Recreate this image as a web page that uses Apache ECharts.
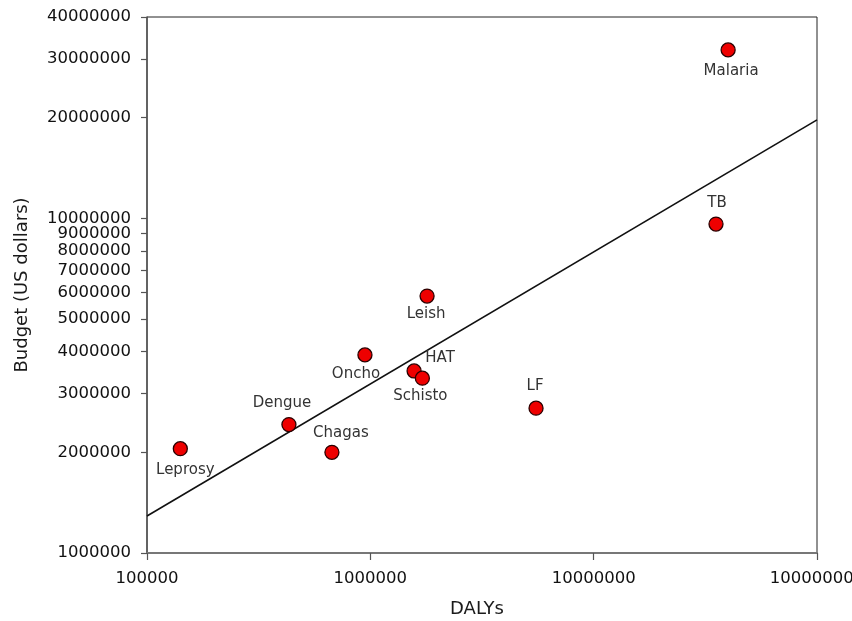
<!DOCTYPE html>
<html><head><meta charset="utf-8">
<script src="https://cdn.jsdelivr.net/npm/echarts@6/dist/echarts.min.js"></script>
<style>html,body{margin:0;padding:0;background:#fff}#c{width:852px;height:621px}</style>
</head><body><div id="c"></div>
<script>
// ---- data ----
const diseases = ['Malaria', 'TB', 'LF', 'Leish', 'Oncho', 'HAT', 'Schisto', 'Dengue', 'Chagas', 'Leprosy'];
const dalys   = [40000000, 35300000, 5520000, 1795000, 946000, 1570000, 1710000, 432000, 673000, 141000];
const budgets = [31900000, 9620000, 2710000, 5860000, 3910000, 3500000, 3330000, 2420000, 2000000, 2050000];
const fitLineX = [100000, 100000000];
const fitLineY = [1290000, 19700000];
const xTickValues = [100000, 1000000, 10000000, 100000000];
const xTickLabels = ['100000', '1000000', '10000000', '100000000'];
const yTickValues = [1000000, 2000000, 3000000, 4000000, 5000000, 6000000, 7000000, 8000000, 9000000, 10000000, 20000000, 30000000, 40000000];
const yTickLabels = ['1000000', '2000000', '3000000', '4000000', '5000000', '6000000', '7000000', '8000000', '9000000', '10000000', '20000000', '30000000', '40000000'];

// ---- label placement (style, not data) ----
const labelOffsets = {
  Malaria: [3, 21], TB: [1, -21], LF: [-1, -22], Leish: [-1, 18], Oncho: [-9, 19],
  HAT: [26, -13], Schisto: [-2, 18], Dengue: [-7, -21], Chagas: [9, -19], Leprosy: [5, 21]
};

const FONT = 'DejaVu Sans';
const lg = Math.log10;
function labelFor(vals, labels, v) {
  for (let i = 0; i < vals.length; i++) if (Math.abs(lg(vals[i]) - v) < 1e-6) return labels[i];
  return '';
}

const chart = echarts.init(document.getElementById('c'), null, {renderer: 'canvas'});
chart.setOption({
  animation: false,
  backgroundColor: '#fff',
  grid: {left: 147, right: 35, top: 17, bottom: 68, show: true, borderColor: '#222', borderWidth: 1,
    backgroundColor: 'transparent', containLabel: false, outerBoundsMode: 'none'},
  xAxis: {
    type: 'value', min: lg(xTickValues[0]), max: lg(xTickValues[xTickValues.length - 1]), interval: 1,
    name: 'DALYs', nameLocation: 'middle', nameGap: 47,
    nameTextStyle: {fontFamily: FONT, fontSize: 18, color: '#1a1a1a', padding: [0, 10, 0, 0]},
    axisLine: {show: true, lineStyle: {color: '#777', width: 2}},
    axisTick: {show: true, length: 7, lineStyle: {color: '#555', width: 1.2}},
    axisLabel: {margin: 17, fontFamily: FONT, fontSize: 16.5, color: '#111',
      showMinLabel: true, showMaxLabel: true,
      formatter: v => labelFor(xTickValues, xTickLabels, v)},
    splitLine: {show: false}
  },
  yAxis: {
    type: 'value', min: lg(yTickValues[0]), max: lg(yTickValues[yTickValues.length - 1]),
    name: 'Budget (US dollars)', nameLocation: 'middle', nameGap: 116,
    nameTextStyle: {fontFamily: FONT, fontSize: 18, color: '#1a1a1a'},
    axisLine: {show: true, lineStyle: {color: '#555', width: 1.5}},
    axisTick: {show: true, length: 6, lineStyle: {color: '#555', width: 1.2}, customValues: yTickValues.map(lg)},
    axisLabel: {margin: 16, fontFamily: FONT, fontSize: 16.5, color: '#111', customValues: yTickValues.map(lg),
      showMinLabel: true, showMaxLabel: true,
      formatter: v => labelFor(yTickValues, yTickLabels, v)},
    splitLine: {show: false}
  },
  series: [
    {
      type: 'line', silent: true, showSymbol: false, symbol: 'none', z: 1,
      lineStyle: {color: '#111', width: 1.6},
      data: fitLineX.map((x, i) => [lg(x), lg(fitLineY[i])])
    },
    {
      type: 'scatter', z: 3, symbolSize: 14,
      itemStyle: {color: '#ee0000', borderColor: '#2a0000', borderWidth: 1.3, opacity: 1},
      label: {show: true, position: 'inside', fontFamily: FONT, fontSize: 15, color: '#333',
        formatter: p => p.name},
      labelLayout: p => {
        const o = labelOffsets[diseases[p.dataIndex]];
        return {dx: o[0], dy: o[1], hideOverlap: false};
      },
      data: diseases.map((d, i) => ({name: d, value: [lg(dalys[i]), lg(budgets[i])]}))
    }
  ]
});
</script></body></html>
